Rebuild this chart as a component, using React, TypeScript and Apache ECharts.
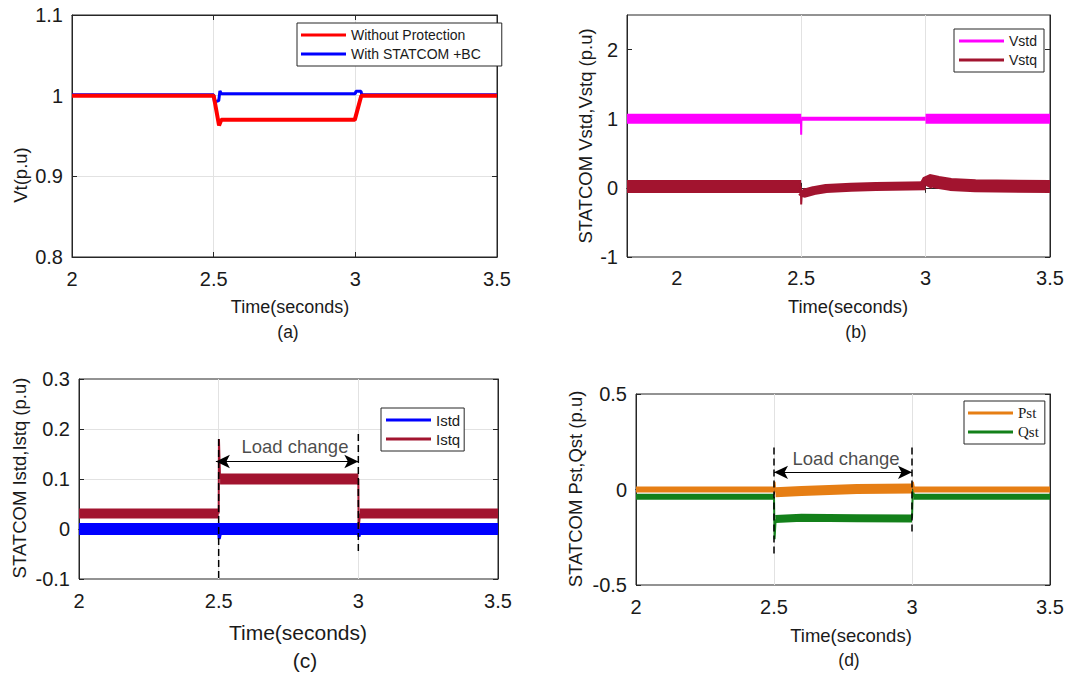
import React, { useEffect, useRef } from "react";
import * as echarts from "echarts";

// ---------------- Panel (a): terminal voltage ----------------
const aRedT = [2, 2.5, 2.519, 2.527, 2.998, 3.021, 3.5];
const aRedV = [1.0, 1.0, 0.963, 0.97, 0.97, 1.0, 1.0];
const aBlueT = [2, 2.5, 2.503, 2.518, 2.522, 2.527, 3.0, 3.002, 3.02, 3.023, 3.5];
const aBlueV = [1.001, 1.001, 0.992, 0.994, 1.006, 1.0025, 1.0025, 1.0055, 1.0055, 1.001, 1.001];

// ---------------- Panel (b): STATCOM voltages ----------------
const bXTicks = [2, 2.5, 3, 3.5];
const bYTicks = [-1, 0, 1, 2];
const bVstdPreT = [1.8, 2.5];
const bVstdPreV = [1.0, 1.0];
const bVstdDipT = [2.499, 2.5, 2.501];
const bVstdDipV = [1.0, 0.77, 1.0];
const bVstdMidT = [2.5, 3.0];
const bVstdMidV = [1.0, 1.0];
const bVstdPostT = [3.0, 3.5];
const bVstdPostV = [1.0, 1.0];
const bVstqPreT = [1.8, 2.5];
const bVstqPreV = [0.02, 0.02];
const bVstqDipT = [2.499, 2.5, 2.503];
const bVstqDipV = [0.02, -0.24, -0.06];
const bVstqMidT = [2.5, 2.51, 2.55, 2.6, 2.7, 2.8, 3.0];
const bVstqMidV = [-0.05, -0.08, -0.04, -0.01, 0.01, 0.02, 0.03];
const bVstqPostT = [3.0, 3.012, 3.05, 3.1, 3.2, 3.5];
const bVstqPostV = [0.03, 0.11, 0.08, 0.05, 0.03, 0.02];

// ---------------- Panel (c): STATCOM currents ----------------
const cIstqPreT = [2, 2.5];
const cIstqPreV = [0.031, 0.031];
const cIstqUpT = [2.5, 2.501, 2.505];
const cIstqUpV = [0.031, 0.18, 0.1];
const cIstqMidT = [2.505, 3.0];
const cIstqMidV = [0.1, 0.1];
const cIstqDownT = [3.0, 3.001, 3.006];
const cIstqDownV = [0.1, 0.0, 0.031];
const cIstqPostT = [3.005, 3.5];
const cIstqPostV = [0.031, 0.031];
const cIstdT = [2, 2.5, 3.0, 3.5];
const cIstdV = [0.0, 0.0, 0.0, 0.0];
const cIstdBlipT = [2.499, 2.502, 2.51, 2.999, 3.002, 3.01];
const cIstdBlipV = [0.0, -0.02, 0.0, 0.0, -0.015, 0.0];
const cDashAT = [2.5, 2.5];
const cDashAV = [0.18, -0.1];
const cDashBT = [3.0, 3.0];
const cDashBV = [0.19, -0.05];
const cArrow = [[2.49, 0.135], [3.0, 0.135]];
const cLabelPos = [2.773, 0.165];

// ---------------- Panel (d): STATCOM powers ----------------
const dPstPreT = [2, 2.5];
const dPstPreV = [0.0, 0.0];
const dPstSpikeAT = [2.5, 2.502, 2.505];
const dPstSpikeAV = [0.0, 0.04, -0.015];
const dPstMidT = [2.505, 2.6, 2.8, 3.0];
const dPstMidV = [-0.015, -0.008, 0.003, 0.005];
const dPstSpikeBT = [3.0, 3.003, 3.008];
const dPstSpikeBV = [0.005, 0.04, 0.0];
const dPstPostT = [3.005, 3.5];
const dPstPostV = [0.0, 0.0];
const dQstPreT = [2, 2.5];
const dQstPreV = [-0.038, -0.038];
const dQstSpikeAT = [2.5, 2.502, 2.506];
const dQstSpikeAV = [-0.038, -0.26, -0.155];
const dQstMidT = [2.505, 2.6, 2.8, 3.0];
const dQstMidV = [-0.155, -0.148, -0.15, -0.152];
const dQstSpikeBT = [3.0, 3.003, 3.008];
const dQstSpikeBV = [-0.152, 0.0, -0.038];
const dQstPostT = [3.005, 3.5];
const dQstPostV = [-0.038, -0.038];
const dDashAT = [2.5, 2.5];
const dDashAV = [0.22, -0.35];
const dDashBT = [3.0, 3.0];
const dDashBV = [0.22, -0.22];
const dArrow = [[2.5, 0.09], [3.0, 0.09]];
const dLabelPos = [2.761, 0.16];

const LOAD_TEXT = "Load change";
const TIME_TEXT = "Time(seconds)";

const FONT = '"Liberation Sans", Arial, Helvetica, sans-serif';
const SERIF = '"Liberation Serif", "Times New Roman", serif';
const AXC = "#262626";
const GRIDC = "#e2e2e2";
const TXT = "#1a1a1a";

const zip = (t: number[], v: number[]) => t.map((x, i) => [x, v[i]]);

function axes(
  gi: number,
  x: { min: number; max: number; interval?: number; custom?: number[]; margin: number },
  y: { min: number; max: number; interval?: number; custom?: number[] }
) {
  const tick = { show: true, inside: true, length: 5, lineStyle: { color: AXC, width: 1 } };
  const line = { show: true, lineStyle: { color: AXC, width: 1 } };
  const split = { show: true, showMinLine: false, showMaxLine: false, lineStyle: { color: GRIDC, width: 1 } };
  const lbl = { fontSize: 20, fontFamily: FONT, color: TXT };
  const xBase: any = { gridIndex: gi, type: "value", min: x.min, max: x.max };
  if (x.interval !== undefined) xBase.interval = x.interval;
  const yBase: any = { gridIndex: gi, type: "value", min: y.min, max: y.max };
  if (y.interval !== undefined) yBase.interval = y.interval;
  const xTick: any = { ...tick };
  const xLbl: any = { ...lbl, margin: x.margin };
  if (x.custom) {
    xTick.customValues = x.custom;
    xLbl.customValues = x.custom;
  }
  const yTick: any = { ...tick };
  const yLbl: any = { ...lbl, margin: 9 };
  if (y.custom) {
    yTick.customValues = y.custom;
    yLbl.customValues = y.custom;
  }
  const xs = [
    { ...xBase, position: "bottom", axisLine: line, axisTick: xTick, axisLabel: xLbl, splitLine: split },
    { ...xBase, position: "top", axisLine: line, axisTick: { ...xTick }, axisLabel: { show: false }, splitLine: { show: false } },
  ];
  const ys = [
    { ...yBase, position: "left", axisLine: line, axisTick: yTick, axisLabel: yLbl, splitLine: split },
    { ...yBase, position: "right", axisLine: line, axisTick: { ...yTick }, axisLabel: { show: false }, splitLine: { show: false } },
  ];
  return { xs, ys };
}

function ln(gi: number, name: string, color: string, t: number[], v: number[], width: number, extra: any = {}) {
  return {
    type: "line",
    name,
    xAxisIndex: gi * 2,
    yAxisIndex: gi * 2,
    data: zip(t, v),
    showSymbol: false,
    symbol: "none",
    color,
    itemStyle: { color },
    lineStyle: { color, width },
    silent: true,
    animation: false,
    ...extra,
  };
}

function dashed(gi: number, t: number[], v: number[], arrow: number[][]) {
  return {
    type: "line",
    name: "_dash" + gi + "_" + t[0],
    xAxisIndex: gi * 2,
    yAxisIndex: gi * 2,
    data: zip(t, v),
    showSymbol: false,
    symbol: "none",
    z: 4,
    silent: true,
    lineStyle: { color: "#000", width: 1.5, type: [7, 4] },
    markLine: arrow.length
      ? {
          silent: true,
          symbol: ["arrow", "arrow"],
          symbolSize: [10, 14],
          lineStyle: { color: "#000", width: 1.2, type: "solid" },
          itemStyle: { color: "#000" },
          label: { show: false },
          animation: false,
          data: [[{ coord: arrow[0] }, { coord: arrow[1] }]],
        }
      : undefined,
  };
}

function textPoint(gi: number, pos: number[], text: string) {
  return {
    type: "scatter",
    name: "_txt" + gi,
    xAxisIndex: gi * 2,
    yAxisIndex: gi * 2,
    data: [pos],
    symbolSize: 0,
    silent: true,
    z: 5,
    label: {
      show: true,
      position: "inside",
      formatter: text,
      fontSize: 18.5,
      fontFamily: FONT,
      color: TXT,
    },
  };
}

function gtext(text: string, x: number, y: number, size: number, rot = 0, family = FONT) {
  return {
    type: "text",
    x,
    y,
    rotation: rot,
    silent: true,
    style: {
      text,
      fontSize: size,
      fontFamily: family,
      fill: TXT,
      align: "center",
      verticalAlign: "middle",
      textAlign: "center",
      textVerticalAlign: "middle",
    },
  };
}

function legend(left: number, top: number, names: string[], padding: number[], size: number, family = FONT) {
  return {
    left,
    top,
    orient: "vertical",
    data: names,
    icon: "rect",
    itemWidth: 45,
    itemHeight: 3,
    itemGap: 1,
    padding,
    borderColor: AXC,
    borderWidth: 1,
    borderRadius: 0,
    backgroundColor: "#fff",
    selectedMode: false,
    textStyle: { fontSize: size, fontFamily: family, color: TXT, lineHeight: 18 },
  };
}

export default function App() {
  const ref = useRef<HTMLDivElement>(null);
  useEffect(() => {
    if (!ref.current) return;
    const chart = echarts.init(ref.current, null, { renderer: "svg" });
    const A = axes(0, { min: 2, max: 3.5, interval: 0.5, margin: 12 }, { min: 0.8, max: 1.1, interval: 0.1 });
    const B = axes(1, { min: 1.8, max: 3.5, custom: bXTicks, margin: 11 }, { min: -1, max: 2.5, custom: bYTicks });
    const C = axes(2, { min: 2, max: 3.5, interval: 0.5, margin: 12 }, { min: -0.1, max: 0.3, interval: 0.1 });
    const D = axes(3, { min: 2, max: 3.5, interval: 0.5, margin: 12 }, { min: -0.5, max: 0.5, interval: 0.5 });
    const gridStyle = { show: true, borderColor: AXC, borderWidth: 1, backgroundColor: "#fff", containLabel: false };

    const option: any = {
      animation: false,
      backgroundColor: "#fff",
      grid: [
        { ...gridStyle, left: 72, top: 15, width: 425, height: 242 },
        { ...gridStyle, left: 627, top: 15, width: 423, height: 242 },
        { ...gridStyle, left: 79, top: 379, width: 419, height: 200 },
        { ...gridStyle, left: 636, top: 394, width: 414, height: 191 },
      ],
      xAxis: [...A.xs, ...B.xs, ...C.xs, ...D.xs],
      yAxis: [...A.ys, ...B.ys, ...C.ys, ...D.ys],
      legend: [
        legend(297, 23, ["Without Protection", "With STATCOM +BC"], [3, 21, 3, 4], 14),
        legend(954, 29, ["Vstd", "Vstq"], [3, 7, 3, 5], 14),
        legend(381, 408, ["Istd", "Istq"], [3, 4, 3, 5], 15),
        legend(964, 401, ["Pst", "Qst"], [3, 6, 3, 4], 15, SERIF),
      ],
      graphic: [
        gtext("Vt(p.u)", 20, 175, 18.5, Math.PI / 2),
        gtext("STATCOM Vstd,Vstq (p.u)", 585, 136, 18.5, Math.PI / 2),
        gtext("STATCOM Istd,Istq (p.u)", 19, 478, 18.5, Math.PI / 2),
        gtext("STATCOM Pst,Qst (p.u)", 575, 489, 18.5, Math.PI / 2),
        gtext(TIME_TEXT, 290, 307, 18),
        gtext(TIME_TEXT, 848, 306, 18.3),
        gtext(TIME_TEXT, 298, 632, 21),
        gtext(TIME_TEXT, 851, 635, 18.5),
        gtext("(a)", 288, 332, 17.5),
        gtext("(b)", 856, 332, 17.5),
        gtext("(c)", 305, 660, 21),
        gtext("(d)", 849, 660, 17.5),
      ],
      series: [
        // (a)
        ln(0, "With STATCOM +BC", "#0000ff", aBlueT, aBlueV, 3),
        ln(0, "Without Protection", "#ff0000", aRedT, aRedV, 4),
        // (b)
        ln(1, "Vstd", "#ff00ff", bVstdPreT, bVstdPreV, 10),
        ln(1, "Vstd", "#ff00ff", bVstdDipT, bVstdDipV, 2),
        ln(1, "Vstd", "#ff00ff", bVstdMidT, bVstdMidV, 4),
        ln(1, "Vstd", "#ff00ff", bVstdPostT, bVstdPostV, 10),
        ln(1, "Vstq", "#a2142f", bVstqPreT, bVstqPreV, 13),
        ln(1, "Vstq", "#a2142f", bVstqDipT, bVstqDipV, 2),
        ln(1, "Vstq", "#a2142f", bVstqMidT, bVstqMidV, 9),
        ln(1, "Vstq", "#a2142f", bVstqPostT, bVstqPostV, 13),
        // (c)
        ln(2, "Istd", "#0000ff", cIstdT, cIstdV, 12),
        ln(2, "Istd", "#0000ff", cIstdBlipT, cIstdBlipV, 3),
        ln(2, "Istq", "#a2142f", cIstqPreT, cIstqPreV, 10),
        ln(2, "Istq", "#a2142f", cIstqUpT, cIstqUpV, 2),
        ln(2, "Istq", "#a2142f", cIstqMidT, cIstqMidV, 11),
        ln(2, "Istq", "#a2142f", cIstqDownT, cIstqDownV, 2),
        ln(2, "Istq", "#a2142f", cIstqPostT, cIstqPostV, 10),
        dashed(2, cDashAT, cDashAV, cArrow),
        dashed(2, cDashBT, cDashBV, []),
        textPoint(2, cLabelPos, LOAD_TEXT),
        // (d)
        ln(3, "Qst", "#13801a", dQstPreT, dQstPreV, 6),
        ln(3, "Qst", "#13801a", dQstSpikeAT, dQstSpikeAV, 2),
        ln(3, "Qst", "#13801a", dQstMidT, dQstMidV, 8),
        ln(3, "Qst", "#13801a", dQstSpikeBT, dQstSpikeBV, 2),
        ln(3, "Qst", "#13801a", dQstPostT, dQstPostV, 6),
        ln(3, "Pst", "#e67e14", dPstPreT, dPstPreV, 6),
        ln(3, "Pst", "#e67e14", dPstSpikeAT, dPstSpikeAV, 2),
        ln(3, "Pst", "#e67e14", dPstMidT, dPstMidV, 10),
        ln(3, "Pst", "#e67e14", dPstSpikeBT, dPstSpikeBV, 2),
        ln(3, "Pst", "#e67e14", dPstPostT, dPstPostV, 6),
        dashed(3, dDashAT, dDashAV, dArrow),
        dashed(3, dDashBT, dDashBV, []),
        textPoint(3, dLabelPos, LOAD_TEXT),
      ],
    };
    chart.setOption(option);
    return () => chart.dispose();
  }, []);
  return (
    <div
      ref={ref}
      style={{ position: "fixed", left: 0, top: 0, width: 1069, height: 673, background: "#fff" }}
    />
  );
}
